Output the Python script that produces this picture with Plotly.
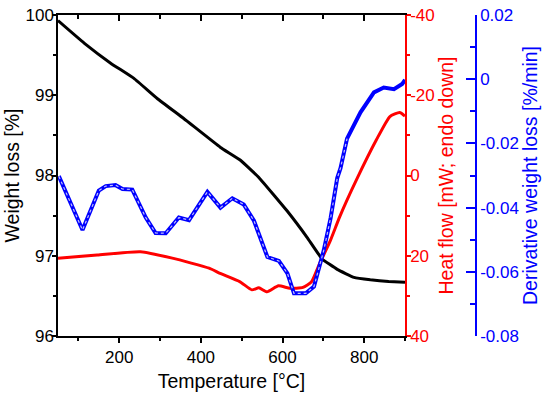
import plotly.graph_objects as go

# ---- data ----
T_w = [50, 114, 179, 236, 293, 358, 448, 497, 543, 611, 660, 697, 734, 775, 815, 860, 900]
W = [99.93, 99.65, 99.40, 99.21, 98.96, 98.71, 98.35, 98.19, 97.97, 97.56, 97.23, 96.96,
     96.83, 96.73, 96.70, 96.68, 96.67]

T_h = [50, 146, 252, 330, 420, 447, 496, 525, 542, 562, 590, 618, 650, 671, 691, 716, 740,
       781, 830, 863, 887, 900]
H = [20.6, 19.8, 19.0, 20.6, 23.1, 24.4, 26.5, 28.5, 28.0, 29.0, 27.5, 28.1, 27.9, 26.5,
     21.9, 16.5, 10.3, 1.1, -8.9, -14.7, -15.7, -14.8]

T_d = [52, 110, 150, 167, 191, 208, 232, 265, 289, 314, 346, 371, 416, 448, 477, 505, 530,
       563, 591, 612, 628, 657, 677, 701, 718, 734, 742, 758, 791, 824, 848, 873, 893, 900]
D = [-0.0302, -0.0470, -0.0347, -0.0333, -0.0330, -0.0342, -0.0344, -0.0431, -0.0479,
     -0.0480, -0.0431, -0.0439, -0.0351, -0.0400, -0.0371, -0.0390, -0.0441, -0.0554,
     -0.0566, -0.0605, -0.0667, -0.0667, -0.0646, -0.0533, -0.0431, -0.0308, -0.0277,
     -0.0185, -0.0103, -0.0041, -0.0026, -0.0031, -0.0015, -0.0002]

x_ticks = [200, 400, 600, 800]
h_ticks = [-40, -20, 0, 20, 40]
h_ticktext = ["-40", "-20", "0", "20", "40"]
d_ticks = [0.02, 0, -0.02, -0.04, -0.06, -0.08]
d_ticktext = ["0.02", "0", "-0.02", "-0.04", "-0.06", "-0.08"]

FONT = "Liberation Sans, Arial, sans-serif"
BLUE = "#0000ff"
RED = "#ff0000"
TICK = 17
TITLE = 19.5

fig = go.Figure()

# derivative (blue, hollow-circle look)
fig.add_trace(go.Scatter(x=T_d, y=D, yaxis="y3", mode="lines",
                         line=dict(color=BLUE, width=4), hoverinfo="skip"))
n_hollow = 28
fig.add_trace(go.Scatter(x=T_d[:n_hollow], y=D[:n_hollow], yaxis="y3", mode="lines",
                         line=dict(color="#c0c0ff", width=1.2, dash="dot"), hoverinfo="skip"))
# heat flow (red)
fig.add_trace(go.Scatter(x=T_h, y=H, yaxis="y2", mode="lines",
                         line=dict(color=RED, width=3, shape="spline", smoothing=0.5)))
# weight loss (black)
fig.add_trace(go.Scatter(x=T_w, y=W, mode="lines",
                         line=dict(color="black", width=3, shape="spline", smoothing=0.3)))
# invisible helper for top axis
fig.add_trace(go.Scatter(x=T_w, y=W, xaxis="x2", mode="lines", opacity=0,
                         line=dict(width=0), hoverinfo="skip"))

dom = [0, 347 / 418]
fig.update_layout(
    template="none",
    width=550, height=396,
    margin=dict(l=58, r=74, t=15, b=60, pad=0),
    paper_bgcolor="white", plot_bgcolor="white",
    showlegend=False,
    font=dict(family=FONT, size=TICK, color="black"),
    xaxis=dict(domain=dom, range=[50, 900], tickvals=x_ticks, automargin=False,
               showgrid=False, zeroline=False, showline=True, linecolor="black", linewidth=1.5,
               ticks="outside", ticklen=5, tickwidth=1.5, tickcolor="black",
               minor=dict(dtick=100, tick0=0, ticks="outside", ticklen=3, tickwidth=1.5,
                          tickcolor="black", showgrid=False),
               title=dict(text="Temperature [°C]", font=dict(size=TITLE), standoff=8),
               tickfont=dict(size=TICK), anchor="y"),
    xaxis2=dict(domain=dom, range=[50, 900], overlaying="x", side="top", anchor="y",
                automargin=False,
                tickvals=x_ticks, showticklabels=False, showgrid=False, zeroline=False,
                showline=True, linecolor="black", linewidth=1.5,
                ticks="inside", ticklen=6, tickwidth=1.5, tickcolor="black",
                minor=dict(dtick=100, tick0=0, ticks="inside", ticklen=4, tickwidth=1.5,
                           tickcolor="black", showgrid=False)),
    yaxis=dict(range=[96, 100], dtick=1, showgrid=False, zeroline=False, automargin=False,
               showline=True, linecolor="black", linewidth=1.5,
               ticks="outside", ticklen=4, tickwidth=1.5, tickcolor="black",
               ticklabelstandoff=-5,
               minor=dict(dtick=0.5, ticks="outside", ticklen=3, tickwidth=1.5,
                          tickcolor="black", showgrid=False),
               title=dict(text="Weight loss [%]", font=dict(size=TITLE), standoff=1),
               tickfont=dict(size=TICK)),
    yaxis2=dict(range=[40, -40], tickvals=h_ticks, ticktext=h_ticktext,
                overlaying="y", side="right", anchor="x", automargin=False,
                showgrid=False, zeroline=False, showline=True, linecolor=RED, linewidth=1.5,
                ticks="outside", ticklen=4, tickwidth=1.5, tickcolor=RED,
                ticklabelstandoff=-4,
                minor=dict(dtick=10, ticks="outside", ticklen=3, tickwidth=1.5,
                           tickcolor=RED, showgrid=False),
                tickfont=dict(size=TICK, color=RED),
                title=dict(text="Heat flow [mW; endo down]", font=dict(size=TITLE, color=RED),
                           standoff=0)),
    yaxis3=dict(range=[-0.08, 0.02], tickvals=d_ticks, ticktext=d_ticktext,
                overlaying="y", side="right", anchor="free", position=1.0, automargin=False,
                showgrid=False, zeroline=False, showline=True, linecolor=BLUE, linewidth=1.5,
                ticks="inside", ticklen=9, tickwidth=1.5, tickcolor=BLUE,
                minor=dict(dtick=0.01, ticks="inside", ticklen=5, tickwidth=1.5,
                           tickcolor=BLUE, showgrid=False),
                tickfont=dict(size=TICK, color=BLUE),
                title=dict(text="Derivative weight loss [%/min]",
                           font=dict(size=TITLE, color=BLUE), standoff=1)),
)

fig.write_html("out.html", config={"displayModeBar": False},
               post_script="document.body.style.margin='0px';document.body.style.overflow='hidden';")
